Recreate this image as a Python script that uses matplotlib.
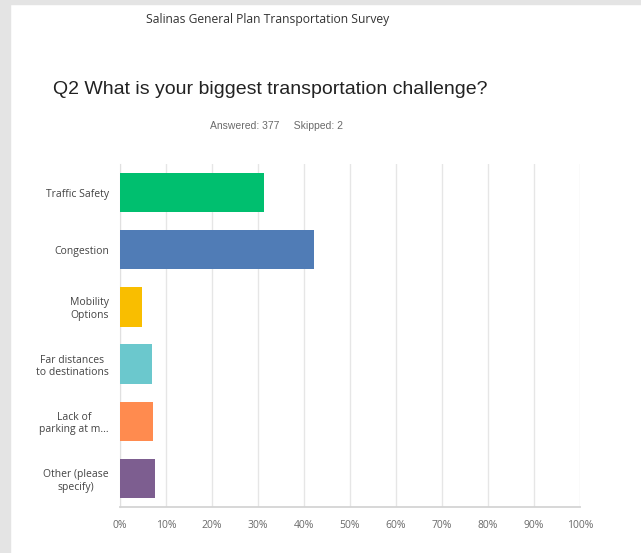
import matplotlib
matplotlib.use("Agg")
import matplotlib.pyplot as plt
from matplotlib.patches import Rectangle

# answer choices, top to bottom
labels = ["Traffic Safety", "Congestion", "Mobility\nOptions",
          "Far distances\nto destinations", "Lack of\nparking at m...",
          "Other (please\nspecify)"]
percents = [31.30, 42.18, 4.77, 6.90, 7.16, 7.69]
colors = ["#00bf6f", "#507cb6", "#f9be00", "#6bc8cd", "#ff8b4f", "#7d5e90"]
ticks = [0, 10, 20, 30, 40, 50, 60, 70, 80, 90, 100]
tick_labels = [str(t) + "%" for t in ticks]

fig = plt.figure(figsize=(6.41, 5.53), dpi=100)
fig.patch.set_facecolor("white")

# grey page frame on the left and top
fig.patches.append(Rectangle((0, 0), 10 / 641, 1, transform=fig.transFigure,
                             color="#e4e4e4", zorder=0))
fig.patches.append(Rectangle((0, 1 - 4 / 553), 1, 4 / 553, transform=fig.transFigure,
                             color="#e4e4e4", zorder=0))

ax = fig.add_axes([120 / 641, 46 / 553, 460 / 641, 343 / 553])
ypos = list(range(len(labels)))
ax.barh(ypos, percents, height=0.69, color=colors, zorder=3)

ax.set_xlim(0, 100)
ax.set_ylim(5.5, -0.5)
ax.set_xticks(ticks)
ax.set_xticklabels(tick_labels, fontsize=7.5, color="#6a6a6a", family="Open Sans")
ax.set_yticks(ypos)
ax.set_yticklabels(labels, fontsize=7.5, color="#444444", family="Open Sans",
                   multialignment="center")
ax.tick_params(axis="both", length=0)
ax.tick_params(axis="y", pad=8)
ax.tick_params(axis="x", pad=9)
ax.xaxis.grid(True, color="#e6e6e6", linewidth=1, zorder=0)
for s in ["top", "right"]:
    ax.spines[s].set_visible(False)
ax.spines["left"].set_color("#e0e0e0")
ax.spines["bottom"].set_color("#d4d4d4")
ax.spines["bottom"].set_linewidth(1.3)

fig.text(268 / 641, 1 - 19 / 553, "Salinas General Plan Transportation Survey",
         ha="center", va="center", fontsize=8.7, color="#333333", family="Open Sans")
fig.text(270 / 641, 1 - 90 / 553, "Q2 What is your biggest transportation challenge?",
         ha="center", va="center", fontsize=14, color="#222222", family="Liberation Sans")
fig.text(276 / 641, 1 - 126 / 553, "Answered: 377     Skipped: 2",
         ha="center", va="center", fontsize=7.5, color="#6a6a6a", family="Liberation Sans")

fig.savefig("out.png", dpi=100)
